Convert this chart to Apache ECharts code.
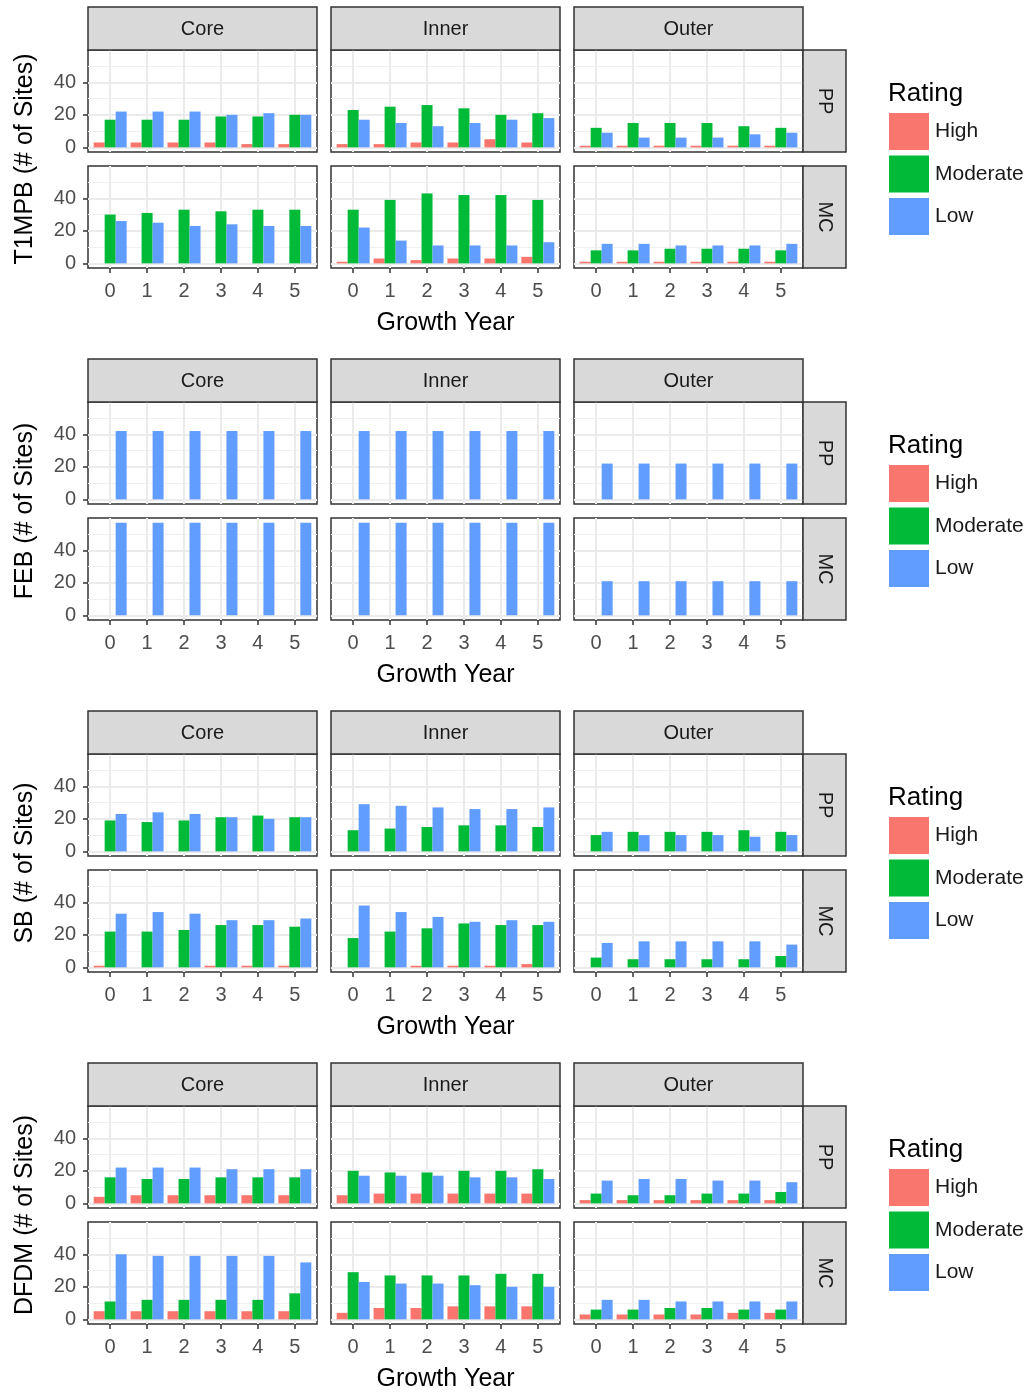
<!DOCTYPE html>
<html><head><meta charset="utf-8">
<script src="https://cdn.jsdelivr.net/npm/echarts@6/dist/echarts.min.js"></script>
<style>html,body{margin:0;padding:0;background:#fff}#chart{width:1032px;height:1397px}</style>
</head><body><div id="chart"></div>
<script>
// ---------- data ----------
const years = [0, 1, 2, 3, 4, 5];
const zones = ['Core', 'Inner', 'Outer'];
const facetRows = ['PP', 'MC'];
const ratings = ['High', 'Moderate', 'Low'];
const pests = ['T1MPB', 'FEB', 'SB', 'DFDM'];
const yTicks = [0, 20, 40];
const yMinorTicks = [10, 30, 50];
const xTitle = 'Growth Year';
const legendTitle = 'Rating';

// each array: [Core, Inner, Outer], values per growth year 0..5
const T1MPB_PP_High     = [[3,3,3,3,2,2], [2,2,3,3,5,3], [1,1,1,1,1,1]];
const T1MPB_PP_Moderate = [[17,17,17,19,19,20], [23,25,26,24,20,21], [12,15,15,15,13,12]];
const T1MPB_PP_Low      = [[22,22,22,20,21,20], [17,15,13,15,17,18], [9,6,6,6,8,9]];
const T1MPB_MC_High     = [[0,0,0,0,0,0], [1,3,2,3,3,4], [1,1,1,1,1,1]];
const T1MPB_MC_Moderate = [[30,31,33,32,33,33], [33,39,43,42,42,39], [8,8,9,9,9,8]];
const T1MPB_MC_Low      = [[26,25,23,24,23,23], [22,14,11,11,11,13], [12,12,11,11,11,12]];

const FEB_PP_High     = [[0,0,0,0,0,0], [0,0,0,0,0,0], [0,0,0,0,0,0]];
const FEB_PP_Moderate = [[0,0,0,0,0,0], [0,0,0,0,0,0], [0,0,0,0,0,0]];
const FEB_PP_Low      = [[42,42,42,42,42,42], [42,42,42,42,42,42], [22,22,22,22,22,22]];
const FEB_MC_High     = [[0,0,0,0,0,0], [0,0,0,0,0,0], [0,0,0,0,0,0]];
const FEB_MC_Moderate = [[0,0,0,0,0,0], [0,0,0,0,0,0], [0,0,0,0,0,0]];
const FEB_MC_Low      = [[57,57,57,57,57,57], [57,57,57,57,57,57], [21,21,21,21,21,21]];

const SB_PP_High     = [[0,0,0,0,0,0], [0,0,0,0,0,0], [0,0,0,0,0,0]];
const SB_PP_Moderate = [[19,18,19,21,22,21], [13,14,15,16,16,15], [10,12,12,12,13,12]];
const SB_PP_Low      = [[23,24,23,21,20,21], [29,28,27,26,26,27], [12,10,10,10,9,10]];
const SB_MC_High     = [[1,0,0,1,1,1], [0,0,1,1,1,2], [0,0,0,0,0,0]];
const SB_MC_Moderate = [[22,22,23,26,26,25], [18,22,24,27,26,26], [6,5,5,5,5,7]];
const SB_MC_Low      = [[33,34,33,29,29,30], [38,34,31,28,29,28], [15,16,16,16,16,14]];

const DFDM_PP_High     = [[4,5,5,5,5,5], [5,6,6,6,6,6], [2,2,2,2,2,2]];
const DFDM_PP_Moderate = [[16,15,15,16,16,16], [20,19,19,20,20,21], [6,5,5,6,6,7]];
const DFDM_PP_Low      = [[22,22,22,21,21,21], [17,17,17,16,16,15], [14,15,15,14,14,13]];
const DFDM_MC_High     = [[5,5,5,5,5,5], [4,7,7,8,8,8], [3,3,3,3,4,4]];
const DFDM_MC_Moderate = [[11,12,12,12,12,16], [29,27,27,27,28,28], [6,6,7,7,6,6]];
const DFDM_MC_Low      = [[40,39,39,39,39,35], [23,22,22,21,20,20], [12,12,11,11,11,11]];

const table = {
  T1MPB: { PP: [T1MPB_PP_High, T1MPB_PP_Moderate, T1MPB_PP_Low], MC: [T1MPB_MC_High, T1MPB_MC_Moderate, T1MPB_MC_Low] },
  FEB:   { PP: [FEB_PP_High, FEB_PP_Moderate, FEB_PP_Low],       MC: [FEB_MC_High, FEB_MC_Moderate, FEB_MC_Low] },
  SB:    { PP: [SB_PP_High, SB_PP_Moderate, SB_PP_Low],          MC: [SB_MC_High, SB_MC_Moderate, SB_MC_Low] },
  DFDM:  { PP: [DFDM_PP_High, DFDM_PP_Moderate, DFDM_PP_Low],    MC: [DFDM_MC_High, DFDM_MC_Moderate, DFDM_MC_Low] }
};

// ---------- style / layout ----------
const FONT = "'Liberation Sans', Arial, sans-serif";
const colors = ['#F8766D', '#00BA38', '#619CFF'];
const BLOCK_H = 352;
const PANEL_X = [88, 331, 574];
const PANEL_W = 229;
const ROW_Y = [50, 166];
const PANEL_H = 102;
const YMIN = -2.85, YMAX = 59.85;
const XMIN = -0.6, XMAX = 5.6;

const grids = [], xAxes = [], yAxes = [], series = [], graphics = [], legends = [];

pests.forEach((pest, b) => {
  const off = b * BLOCK_H;
  facetRows.forEach((row, r) => {
    zones.forEach((zone, z) => {
      const gi = grids.length;
      grids.push({
        left: PANEL_X[z], top: ROW_Y[r] + off, width: PANEL_W, height: PANEL_H,
        show: true, backgroundColor: '#fff', borderColor: '#333', borderWidth: 1.5, containLabel: false
      });
      xAxes.push({
        gridIndex: gi, type: 'value', min: XMIN, max: XMAX, position: 'bottom',
        axisLine: { show: false, onZero: false },
        axisTick: { show: r === 1, customValues: years, length: 5, lineStyle: { color: '#333', width: 1.5 } },
        axisLabel: { show: r === 1, customValues: years, fontSize: 20, color: '#4D4D4D', margin: 13, fontFamily: FONT },
        splitLine: { show: true, lineStyle: { color: '#EBEBEB', width: 2 } }
      });
      const yMajor = yAxes.length;
      yAxes.push({
        gridIndex: gi, type: 'value', min: YMIN, max: YMAX, position: 'left',
        axisLine: { show: false, onZero: false },
        axisTick: { show: z === 0, customValues: yTicks, length: 5, lineStyle: { color: '#333', width: 1.5 } },
        axisLabel: { show: z === 0, customValues: yTicks, fontSize: 20, color: '#4D4D4D', margin: 12, fontFamily: FONT },
        splitLine: { show: true, lineStyle: { color: '#EBEBEB', width: 2 } }
      });
      yAxes.push({
        gridIndex: gi, type: 'value', min: YMIN, max: YMAX, position: 'left',
        axisLine: { show: false, onZero: false },
        axisTick: { show: false, customValues: yMinorTicks },
        axisLabel: { show: false, customValues: yMinorTicks },
        splitLine: { show: true, lineStyle: { color: '#F0F0F0', width: 1 } }
      });
      ratings.forEach((rt, k) => {
        const vals = table[pest][row][k][z];
        series.push({
          type: 'bar', name: rt, xAxisIndex: gi, yAxisIndex: yMajor,
          data: years.map((yr, i) => [yr, vals[i]]),
          barWidth: 11, barGap: '0%',
          itemStyle: { color: colors[k] },
          silent: true, animation: false
        });
      });
    });
    // right strip
    graphics.push({
      type: 'rect', shape: { x: 803, y: ROW_Y[r] + off, width: 43, height: PANEL_H },
      style: { fill: '#D9D9D9', stroke: '#333', lineWidth: 1.5 }, z: 10
    });
    graphics.push({
      type: 'text', x: 824.5, y: ROW_Y[r] + off + PANEL_H / 2, rotation: -Math.PI / 2,
      style: { text: row, fontSize: 20, fill: '#1A1A1A', align: 'center', verticalAlign: 'middle', fontFamily: FONT }, z: 11
    });
  });
  zones.forEach((zone, z) => {
    graphics.push({
      type: 'rect', shape: { x: PANEL_X[z], y: 7 + off, width: PANEL_W, height: 43 },
      style: { fill: '#D9D9D9', stroke: '#333', lineWidth: 1.5 }, z: 10
    });
    graphics.push({
      type: 'text', x: PANEL_X[z] + PANEL_W / 2, y: 29 + off,
      style: { text: zone, fontSize: 20, fill: '#1A1A1A', align: 'center', verticalAlign: 'middle', fontFamily: FONT }, z: 11
    });
  });
  // y title
  graphics.push({
    type: 'text', x: 25, y: 159 + off, rotation: Math.PI / 2,
    style: { text: pest + ' (# of Sites)', fontSize: 25, fill: '#000', align: 'center', verticalAlign: 'middle', fontFamily: FONT }
  });
  // x title
  graphics.push({
    type: 'text', x: 445.5, y: 323 + off,
    style: { text: xTitle, fontSize: 25, fill: '#000', align: 'center', verticalAlign: 'middle', fontFamily: FONT }
  });
  // legend title
  graphics.push({
    type: 'text', x: 888, y: 94 + off,
    style: { text: legendTitle, fontSize: 26, fill: '#000', align: 'left', verticalAlign: 'middle', fontFamily: FONT }
  });
  legends.push({
    data: ratings, orient: 'vertical', left: 889, top: 113 + off,
    itemWidth: 40, itemHeight: 37, itemGap: 5.5, padding: 0, icon: 'rect',
    selectedMode: false,
    textStyle: { fontSize: 21, color: '#1A1A1A', fontFamily: FONT, padding: [0, 0, 0, 1] }
  });
});

const chart = echarts.init(document.getElementById('chart'), null, { renderer: 'canvas' });
chart.setOption({
  backgroundColor: '#fff',
  animation: false,
  textStyle: { fontFamily: FONT },
  grid: grids, xAxis: xAxes, yAxis: yAxes, series: series,
  legend: legends, graphic: graphics
});
</script></body></html>
